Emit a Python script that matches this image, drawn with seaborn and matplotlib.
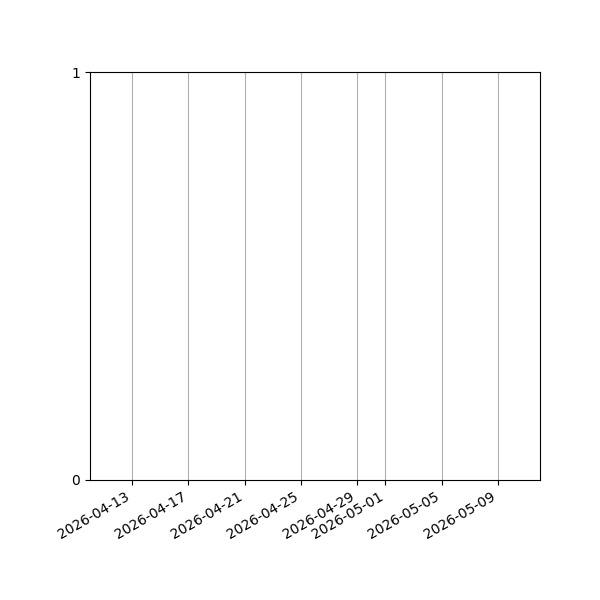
import pandas as pd
import numpy as np
import matplotlib
matplotlib.use("Agg")
import matplotlib.pyplot as plt
import seaborn as sns

# Date span of the (empty) series and its values
dates = ["2026-04-10", "2026-05-12"]
values = [np.nan, np.nan]
y_ticks = [0, 1]

df = pd.DataFrame({"date": pd.to_datetime(dates), "value": values})

fig, ax = plt.subplots(figsize=(6, 6), dpi=100)
sns.lineplot(data=df, x="date", y="value", ax=ax)

ax.set_xlim(df["date"].min(), df["date"].max())
ax.set_ylim(min(y_ticks), max(y_ticks))
ax.set_yticks(y_ticks)
ax.set_xlabel("")
ax.set_ylabel("")
ax.grid(axis="x")

fig.autofmt_xdate()
fig.subplots_adjust(left=0.15, right=0.9, top=0.88, bottom=0.2)
fig.savefig("out.png", dpi=100)
